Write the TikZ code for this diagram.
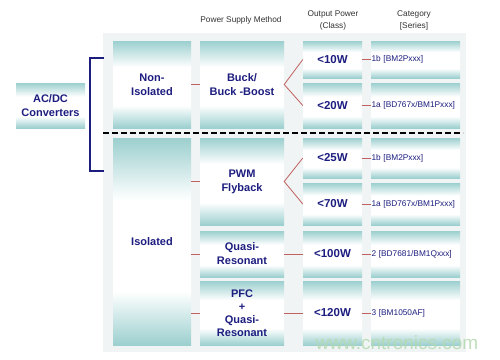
\documentclass[tikz,border=0pt]{standalone}
\usepackage{fontspec}
\setmainfont{Liberation Sans}
\definecolor{tealc}{HTML}{9CCFCF}
\definecolor{navy}{HTML}{1D1D80}
\definecolor{conn}{HTML}{C06060}
\definecolor{panel}{HTML}{F1F4F4}
\definecolor{hdr}{HTML}{333333}
\definecolor{wm}{HTML}{B4DAB0}
\pgfdeclareverticalshading{cellshade}{100bp}{color(0bp)=(tealc); color(25bp)=(tealc); color(38bp)=(white); color(60bp)=(white); color(75bp)=(tealc); color(100bp)=(tealc)}
\begin{document}
\begin{tikzpicture}[x=1pt,y=-1pt,
  cell/.style={rectangle, inner sep=0pt, shading=cellshade,
    text=navy, font=\fontsize{11}{14}\selectfont\bfseries, align=center},
  pcell/.style={cell, font=\fontsize{11.5}{14}\selectfont\bfseries},
  ccell/.style={cell, font=\fontsize{8.3}{10}\selectfont, align=left, inner sep=0.5pt, text width=88pt},
  hdrtext/.style={text=hdr, font=\fontsize{8.3}{12}\selectfont, align=center, inner sep=0pt},
  conline/.style={draw=conn, line width=0.8pt},
  bracket/.style={draw=navy, line width=1.6pt},
]
\useasboundingbox (0,0) rectangle (500,359);
\fill[white] (0,0) rectangle (500,359);
\fill[panel] (103,33) rectangle (466,352);

% headers
\node[hdrtext] (hpsm) at (241,20) {Power Supply Method};
\node[hdrtext] (hop) at (333,20) {Output Power\\(Class)};
\node[hdrtext] (hcat) at (414,20) {Category\\{[Series]}};

% left box
\node[cell, minimum width=69pt, minimum height=45pt] (acdc) at (50.5,105.5) {AC/DC\\Converters};

% bracket
\coordinate (bt) at (104,58);
\coordinate (bb) at (104,171);
\draw[bracket] (bt) -- (90,58) -- (90,171) -- (bb);

% first column
\node[cell, minimum width=78pt, minimum height=87pt] (noniso) at (152,84.5) {Non-\\Isolated};
\node[cell, minimum width=78pt, minimum height=207pt] (iso) at (152,241.5) {Isolated};

% second column
\node[cell, minimum width=84pt, minimum height=87pt] (buck) at (242,84.5) {Buck/\\Buck -Boost};
\node[cell, minimum width=84pt, minimum height=87pt] (pwm) at (242,181.5) {PWM\\Flyback};
\node[cell, minimum width=84pt, minimum height=46pt] (qr) at (242,254) {Quasi-\\Resonant};
\node[cell, minimum width=84pt, minimum height=64pt, font=\fontsize{11}{13}\selectfont\bfseries] (pfc) at (242,313) {PFC\\+\\Quasi-\\Resonant};

% output power column
\node[pcell, minimum width=59pt, minimum height=37pt] (p10) at (332.5,59.5) {<10W};
\node[pcell, minimum width=59pt, minimum height=45pt] (p20) at (332.5,105.5) {<20W};
\node[pcell, minimum width=59pt, minimum height=40pt] (p25) at (332.5,158) {<25W};
\node[pcell, minimum width=59pt, minimum height=42pt] (p70) at (332.5,204) {<70W};
\node[pcell, minimum width=59pt, minimum height=46pt] (p100) at (332.5,254) {<100W};
\node[pcell, minimum width=59pt, minimum height=64pt] (p120) at (332.5,313) {<120W};

% category column
\node[ccell, minimum height=37pt] (c10) at (415.5,59.5) {1b [BM2Pxxx]};
\node[ccell, minimum height=45pt] (c20) at (415.5,105.5) {1a [BD767x/BM1Pxxx]};
\node[ccell, minimum height=40pt] (c25) at (415.5,158) {1b [BM2Pxxx]};
\node[ccell, minimum height=42pt] (c70) at (415.5,204) {1a [BD767x/BM1Pxxx]};
\node[ccell, minimum height=46pt] (c100) at (415.5,254) {2 [BD7681/BM1Qxxx]};
\node[ccell, minimum height=64pt] (c120) at (415.5,313) {3 [BM1050AF]};

% dashed separator
\coordinate (dl) at (103,133);
\coordinate (dr) at (463,133);
\draw[black, line width=1.2pt, dash pattern=on 5.5pt off 3.5pt] (dl) -- (dr);

% connectors
\draw[conline] (noniso.east) -- (buck.west);
\draw[conline] (iso.east |- pwm.west) -- (pwm.west);
\draw[conline] (iso.east |- qr.west) -- (qr.west);
\draw[conline] (iso.east |- pfc.west) -- (pfc.west);
\draw[conline] (p10.west) -- (buck.east) -- (p20.west);
\draw[conline] (p25.west) -- (pwm.east) -- (p70.west);
\draw[conline] (qr.east) -- (p100.west);
\draw[conline] (pfc.east) -- (p120.west);
\draw[conline] (p10.east) -- (c10.west);
\draw[conline] (p20.east) -- (c20.west);
\draw[conline] (p25.east) -- (c25.west);
\draw[conline] (p70.east) -- (c70.west);
\draw[conline] (p100.east) -- (c100.west);
\draw[conline] (p120.east) -- (c120.west);

% watermark
\node[text=wm, font=\fontsize{19}{20}\selectfont, inner sep=0pt, opacity=0.85] (wmk) at (397,343) {www.cntronics.com};
\end{tikzpicture}
\end{document}
